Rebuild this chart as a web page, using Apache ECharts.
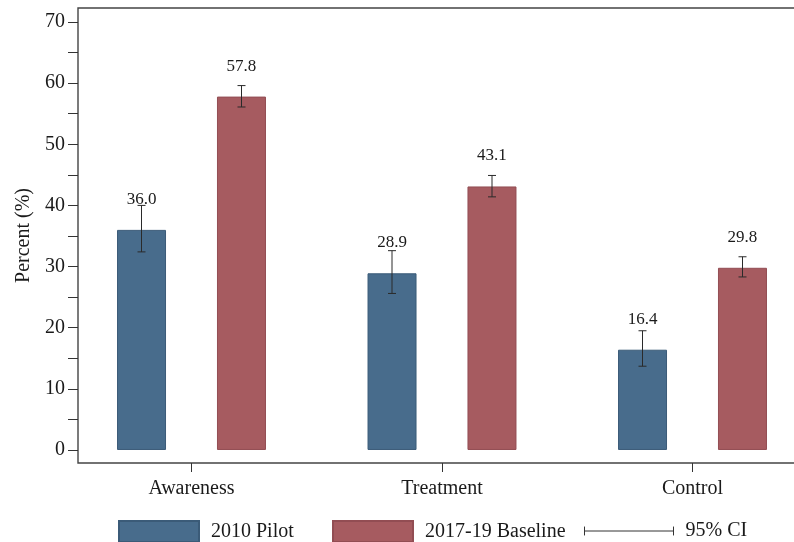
<!DOCTYPE html>
<html>
<head>
<meta charset="utf-8">
<script src="https://cdn.jsdelivr.net/npm/echarts@6/dist/echarts.min.js"></script>
<style>
  html, body { margin: 0; padding: 0; background: #fff; }
  #chart-container { width: 794px; height: 542px; }
</style>
</head>
<body>
<div id="chart-container"></div>
<script>
var categories = ['Awareness', 'Treatment', 'Control'];
var pilot = [36.0, 28.9, 16.4];
var pilotLow = [32.4, 25.6, 13.7];
var pilotHigh = [40.0, 32.6, 19.5];
var baseline = [57.8, 43.1, 29.8];
var baselineLow = [56.1, 41.4, 28.3];
var baselineHigh = [59.6, 44.9, 31.6];
var yLabels = [0, 10, 20, 30, 40, 50, 60, 70];
var yTicks = [0, 5, 10, 15, 20, 25, 30, 35, 40, 45, 50, 55, 60, 65, 70];

var FONT = "'Liberation Serif', 'Times New Roman', serif";
var BLUE = '#486c8c';
var RED = '#a65b60';
var INK = '#1a1a1a';
var BAR_W = 49;
var HALF_STEP = 50; // distance from group centre to each bar centre

var dom = document.getElementById('chart-container');
var myChart = echarts.init(dom, null, { renderer: 'canvas' });

// error bar data: [category index, low, high, side]
var ciData = [];
categories.forEach(function (c, i) {
  ciData.push([i, pilotLow[i], pilotHigh[i], -1]);
  ciData.push([i, baselineLow[i], baselineHigh[i], 1]);
});

function renderCI(params, api) {
  var idx = api.value(0);
  var top = api.coord([idx, api.value(2)]);
  var bot = api.coord([idx, api.value(1)]);
  var x = top[0] + api.value(3) * HALF_STEP;
  var cap = 4;
  var style = { stroke: '#2a2a2a', lineWidth: 1 };
  return {
    type: 'group',
    children: [
      { type: 'line', shape: { x1: x, y1: top[1], x2: x, y2: bot[1] }, style: style },
      { type: 'line', shape: { x1: x - cap, y1: top[1], x2: x + cap, y2: top[1] }, style: style },
      { type: 'line', shape: { x1: x - cap, y1: bot[1], x2: x + cap, y2: bot[1] }, style: style }
    ]
  };
}

var valueLabel = {
  show: true,
  position: 'top',
  distance: 22,
  fontFamily: FONT,
  fontSize: 17,
  color: INK,
  formatter: function (p) { return p.value.toFixed(1); }
};

var legendBase = {
  orient: 'horizontal',
  padding: 0,
  selectedMode: false,
  itemWidth: 80,
  itemHeight: 21,
  textStyle: { fontFamily: FONT, fontSize: 20, color: INK, padding: [0, 0, 0, 7] }
};

var option = {
  animation: false,
  backgroundColor: '#fff',
  grid: [
    { left: 66.25, width: 751.5, top: 8, bottom: 79, outerBoundsMode: 'none', containLabel: false },
    { left: 78, width: 760, top: 8, bottom: 79, outerBoundsMode: 'none', containLabel: false,
      show: true, borderColor: '#444', borderWidth: 1.4, backgroundColor: 'transparent' }
  ],
  legend: [
    Object.assign({}, legendBase, { left: 118, top: 520, data: [{ name: '2010 Pilot', icon: 'rect' }] }),
    Object.assign({}, legendBase, { left: 332, top: 520, data: [{ name: '2017-19 Baseline', icon: 'rect' }] }),
    Object.assign({}, legendBase, {
      left: 584, top: 521, itemWidth: 89, itemHeight: 21,
      data: [{
        name: '95% CI',
        icon: 'path://M0,5L0,15M0,10L100,10M100,5L100,15M0,0M0,20',
        itemStyle: { color: 'transparent', borderColor: '#333', borderWidth: 1 }
      }]
    })
  ],
  xAxis: [
    {
      type: 'category',
      gridIndex: 0,
      data: categories,
      axisLine: { show: false, onZero: false },
      axisTick: { show: true, alignWithLabel: true, length: 9, lineStyle: { color: '#333' } },
      axisLabel: { fontFamily: FONT, fontSize: 20, color: INK, margin: 16 },
      splitLine: { show: false }
    },
    { type: 'value', gridIndex: 1, show: false, min: 0, max: 1 }
  ],
  yAxis: [
    {
      type: 'value',
      gridIndex: 0,
      min: -2.13,
      max: 72.29,
      offset: -11.75,
      name: 'Percent (%)',
      nameLocation: 'middle',
      nameGap: 28,
      nameTextStyle: { fontFamily: FONT, fontSize: 20, color: INK },
      axisLine: { show: false },
      axisTick: { show: true, length: 10, customValues: yTicks, lineStyle: { color: '#333' } },
      axisLabel: { fontFamily: FONT, fontSize: 20, color: INK, margin: 13, customValues: yLabels },
      splitLine: { show: false }
    },
    { type: 'value', gridIndex: 1, show: false, min: 0, max: 1 }
  ],
  series: [
    {
      name: '2010 Pilot',
      type: 'bar',
      xAxisIndex: 0,
      yAxisIndex: 0,
      data: pilot,
      barWidth: BAR_W,
      barGap: '104%',
      itemStyle: { color: BLUE, borderColor: '#3b5b78', borderWidth: 1 },
      label: valueLabel,
      z: 2
    },
    {
      name: '2017-19 Baseline',
      type: 'bar',
      xAxisIndex: 0,
      yAxisIndex: 0,
      data: baseline,
      barWidth: BAR_W,
      barGap: '104%',
      itemStyle: { color: RED, borderColor: '#924d53', borderWidth: 1 },
      label: valueLabel,
      z: 2
    },
    {
      name: '95% CI',
      type: 'custom',
      xAxisIndex: 0,
      yAxisIndex: 0,
      data: ciData,
      renderItem: renderCI,
      z: 5
    }
  ]
};

myChart.setOption(option);
window.addEventListener('resize', myChart.resize);
</script>
</body>
</html>
